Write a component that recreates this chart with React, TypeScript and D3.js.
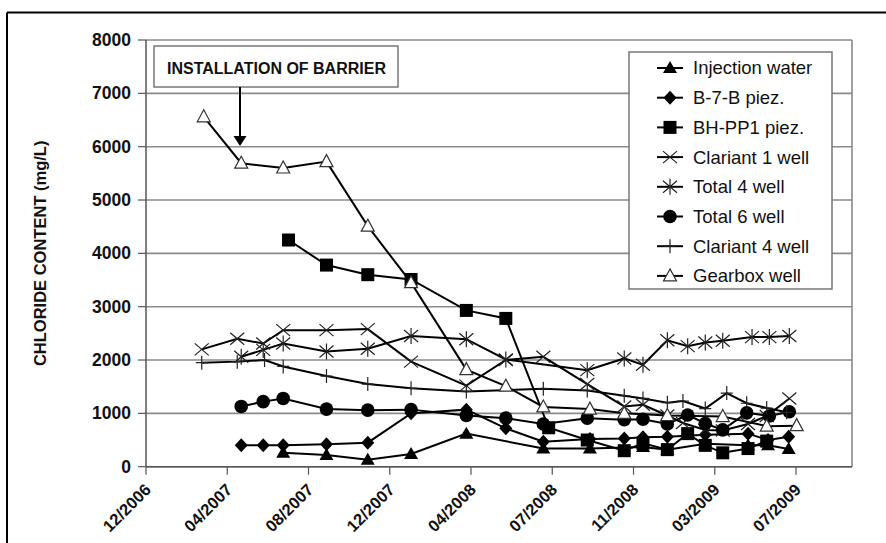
import React from 'react'
import * as d3 from 'd3'

// tick labels on the date axis (Excel spaced them evenly)
const tickLabels = ['12/2006', '04/2007', '08/2007', '12/2007', '04/2008', '07/2008', '11/2008', '03/2009', '07/2009']
const tickDates = ['2006-12-01', '2007-04-01', '2007-08-01', '2007-12-01', '2008-04-01', '2008-07-01', '2008-11-01', '2009-03-01', '2009-07-01']
const yTicks = [0, 1000, 2000, 3000, 4000, 5000, 6000, 7000, 8000]

const injectionWater: [string, number][] = [
  ['2007-06-24', 260], ['2007-08-28', 220], ['2007-10-29', 130], ['2008-01-02', 240], ['2008-03-25', 620],
  ['2008-06-21', 340], ['2008-08-27', 340], ['2008-11-15', 370], ['2008-12-21', 320], ['2009-02-15', 430],
  ['2009-04-20', 400], ['2009-05-20', 400], ['2009-06-20', 330],
]
const b7b: [string, number][] = [
  ['2007-04-22', 400], ['2007-05-25', 400], ['2007-06-24', 400], ['2007-08-28', 420], ['2007-10-29', 450],
  ['2008-01-02', 1000], ['2008-03-25', 1070], ['2008-05-10', 720], ['2008-06-21', 470], ['2008-08-27', 520],
  ['2008-10-18', 530], ['2008-11-15', 550], ['2008-12-21', 560], ['2009-02-15', 600], ['2009-04-20', 620],
  ['2009-05-20', 500], ['2009-06-20', 560],
]
const bhpp1: [string, number][] = [
  ['2007-07-02', 4250], ['2007-08-28', 3780], ['2007-10-29', 3600], ['2008-01-02', 3510], ['2008-03-25', 2930],
  ['2008-05-10', 2780], ['2008-06-27', 730], ['2008-08-23', 500], ['2008-10-18', 300], ['2008-11-15', 440],
  ['2008-12-21', 320], ['2009-01-20', 620], ['2009-02-15', 400], ['2009-03-13', 260], ['2009-04-20', 340],
  ['2009-05-18', 480],
]
const clariant1: [string, number][] = [
  ['2007-02-22', 2200], ['2007-04-16', 2400], ['2007-05-25', 2310], ['2007-06-24', 2560], ['2007-08-28', 2560],
  ['2007-10-29', 2580], ['2008-01-02', 1970], ['2008-03-25', 1520], ['2008-05-10', 2000], ['2008-06-21', 2060],
  ['2008-08-23', 1550], ['2008-10-18', 1130], ['2008-11-15', 1160], ['2008-12-21', 960], ['2009-01-13', 820],
  ['2009-02-15', 690], ['2009-03-13', 680], ['2009-04-20', 800], ['2009-05-18', 950], ['2009-06-21', 1280],
]
const total4: [string, number][] = [
  ['2007-04-22', 2060], ['2007-05-25', 2190], ['2007-06-24', 2310], ['2007-08-28', 2160], ['2007-10-29', 2210],
  ['2008-01-02', 2450], ['2008-03-25', 2390], ['2008-05-10', 2010], ['2008-08-23', 1810], ['2008-10-18', 2030],
  ['2008-11-15', 1910], ['2008-12-21', 2370], ['2009-01-20', 2260], ['2009-02-15', 2330], ['2009-03-13', 2360],
  ['2009-04-26', 2430], ['2009-05-22', 2430], ['2009-06-21', 2450],
]
const total6: [string, number][] = [
  ['2007-04-22', 1130], ['2007-05-25', 1220], ['2007-06-24', 1280], ['2007-08-28', 1080], ['2007-10-29', 1060],
  ['2008-01-02', 1070], ['2008-03-25', 960], ['2008-05-10', 910], ['2008-06-21', 800], ['2008-08-23', 910],
  ['2008-10-18', 880], ['2008-11-15', 890], ['2008-12-21', 800], ['2009-01-20', 970], ['2009-02-15', 810],
  ['2009-03-13', 690], ['2009-04-18', 1010], ['2009-05-22', 950], ['2009-06-21', 1030],
]
const clariant4: [string, number][] = [
  ['2007-02-22', 1950], ['2007-04-16', 1970], ['2007-05-27', 2000], ['2007-06-24', 1880], ['2007-08-28', 1700],
  ['2007-10-29', 1550], ['2008-01-02', 1470], ['2008-03-25', 1410], ['2008-06-21', 1460], ['2008-08-23', 1430],
  ['2008-10-18', 1330], ['2008-11-15', 1280], ['2008-12-21', 1200], ['2009-01-13', 1230], ['2009-02-15', 1090],
  ['2009-03-19', 1380], ['2009-04-18', 1190], ['2009-05-18', 1100], ['2009-06-17', 1020],
]
const gearbox: [string, number][] = [
  ['2007-02-25', 6560], ['2007-04-22', 5690], ['2007-06-24', 5600], ['2007-08-28', 5720], ['2007-10-29', 4510],
  ['2008-01-02', 3450], ['2008-03-25', 1820], ['2008-05-10', 1510], ['2008-06-21', 1120], ['2008-08-27', 1080],
  ['2008-10-18', 1000], ['2008-12-21', 960], ['2009-03-13', 940], ['2009-05-18', 760], ['2009-07-02', 770],
]

const series = [
  { name: 'Injection water', data: injectionWater, marker: 'triangle' },
  { name: 'B-7-B piez.', data: b7b, marker: 'diamond' },
  { name: 'BH-PP1 piez.', data: bhpp1, marker: 'square' },
  { name: 'Clariant 1 well', data: clariant1, marker: 'x' },
  { name: 'Total 4 well', data: total4, marker: 'star' },
  { name: 'Total 6 well', data: total6, marker: 'circle' },
  { name: 'Clariant 4 well', data: clariant4, marker: 'plus' },
  { name: 'Gearbox well', data: gearbox, marker: 'opentriangle' },
]

const W = 886
const H = 543
const left = 146
const right = 852
const top = 40
const bottom = 466.7
const font = 'Arial, "Liberation Sans", sans-serif'

const parse = d3.timeParse('%Y-%m-%d')

const tickPos = d3.scalePoint<string>().domain(tickLabels).range([left, 796])
const x = d3
  .scaleTime()
  .domain(tickDates.map(d => parse(d) as Date))
  .range(tickLabels.map(t => tickPos(t) as number))
const y = d3.scaleLinear().domain([0, 8000]).range([bottom, top])

function Marker({ type, cx, cy }: { type: string; cx: number; cy: number }) {
  const t = `translate(${cx},${cy})`
  switch (type) {
    case 'triangle':
      return <path transform={t} d="M0,-7L7,5L-7,5Z" fill="#000" />
    case 'diamond':
      return <path transform={t} d="M0,-7L6.5,0L0,7L-6.5,0Z" fill="#000" />
    case 'square':
      return <rect transform={t} x={-6.5} y={-6.5} width={13} height={13} fill="#000" />
    case 'circle':
      return <circle cx={cx} cy={cy} r={6.8} fill="#000" />
    case 'x':
      return <path transform={t} d="M-7,-6L7,6M-7,6L7,-6" stroke="#222" strokeWidth={1.2} fill="none" />
    case 'star':
      return <path transform={t} d="M-7,-6L7,6M-7,6L7,-6M0,-8L0,8" stroke="#222" strokeWidth={1.2} fill="none" />
    case 'plus':
      return <path transform={t} d="M-6,0L6,0M0,-7L0,7" stroke="#222" strokeWidth={1.2} fill="none" />
    case 'opentriangle':
      return <path transform={t} d="M0,-7L6.5,5L-6.5,5Z" fill="#fff" stroke="#333" strokeWidth={1.2} />
    default:
      return null
  }
}

export default function App() {
  const line = d3
    .line<[string, number]>()
    .x(d => x(parse(d[0]) as Date))
    .y(d => y(d[1]))

  const legendX = 629
  const legendY = 52
  const rowH = 29.7

  return (
    <svg width={W} height={H} style={{ position: 'absolute', left: 0, top: 0, background: '#fff' }}>
      <rect width={W} height={H} fill="#fff" />
      {/* outer frame */}
      <line x1={7} x2={W} y1={12.5} y2={12.5} stroke="#000" strokeWidth={2} />
      <line x1={7} x2={7} y1={12.5} y2={H} stroke="#000" strokeWidth={2} />

      {/* grid */}
      {yTicks.map(v => (
        <line key={v} x1={left} x2={right} y1={y(v)} y2={y(v)} stroke="#8a8a8a" strokeWidth={1.6} />
      ))}
      <line x1={right} x2={right} y1={top} y2={bottom} stroke="#8a8a8a" strokeWidth={1.6} />

      {/* y axis */}
      <line x1={left} x2={left} y1={top} y2={bottom} stroke="#555" strokeWidth={1.5} />
      {yTicks.map(v => (
        <g key={v}>
          <line x1={left - 8} x2={left} y1={y(v)} y2={y(v)} stroke="#555" strokeWidth={1.2} />
          <text x={131} y={y(v)} dy="0.35em" textAnchor="end" fontFamily={font} fontWeight="bold" fontSize={17.5} fill="#111">
            {v}
          </text>
        </g>
      ))}
      <text
        transform={`translate(46,${(top + bottom) / 2}) rotate(-90)`}
        textAnchor="middle"
        fontFamily={font}
        fontWeight="bold"
        fontSize={16.5}
        fill="#111"
      >
        CHLORIDE CONTENT (mg/L)
      </text>

      {/* x axis */}
      <line x1={left} x2={right} y1={bottom} y2={bottom} stroke="#555" strokeWidth={1.5} />
      {tickLabels.map(t => {
        const px = tickPos(t) as number
        return (
          <g key={t}>
            <line x1={px} x2={px} y1={bottom} y2={bottom + 8} stroke="#555" strokeWidth={1.2} />
            <text
              transform={`translate(${px + 6},${bottom + 24}) rotate(-45)`}
              textAnchor="end"
              fontFamily={font}
              fontWeight="bold"
              fontSize={16.5}
              fill="#111"
            >
              {t}
            </text>
          </g>
        )
      })}

      {/* series */}
      {series.map(s => (
        <path key={s.name} d={line(s.data) || ''} fill="none" stroke="#000" strokeWidth={2} />
      ))}
      {series.map(s =>
        s.data.map((d, i) => (
          <Marker key={s.name + i} type={s.marker} cx={x(parse(d[0]) as Date)} cy={y(d[1])} />
        ))
      )}

      {/* annotation */}
      <rect x={154} y={46} width={244} height={41} fill="#fff" stroke="#777" strokeWidth={1.5} />
      <text x={167} y={74} fontFamily={font} fontWeight="bold" fontSize={16} fill="#111">
        INSTALLATION OF BARRIER
      </text>
      <line x1={240} x2={240} y1={87} y2={137} stroke="#000" strokeWidth={2} />
      <path d="M233.5,136L246.5,136L240,146Z" fill="#000" />

      {/* legend */}
      <rect x={legendX} y={legendY} width={203} height={237} fill="#fff" stroke="#777" strokeWidth={1.5} />
      {series.map((s, i) => {
        const cy = legendY + 16 + i * rowH
        return (
          <g key={s.name}>
            <line x1={657} x2={683} y1={cy} y2={cy} stroke="#000" strokeWidth={2} />
            <Marker type={s.marker} cx={670} cy={cy} />
            <text x={693} y={cy} dy="0.35em" fontFamily={font} fontSize={18.5} fill="#111">
              {s.name}
            </text>
          </g>
        )
      })}
    </svg>
  )
}
